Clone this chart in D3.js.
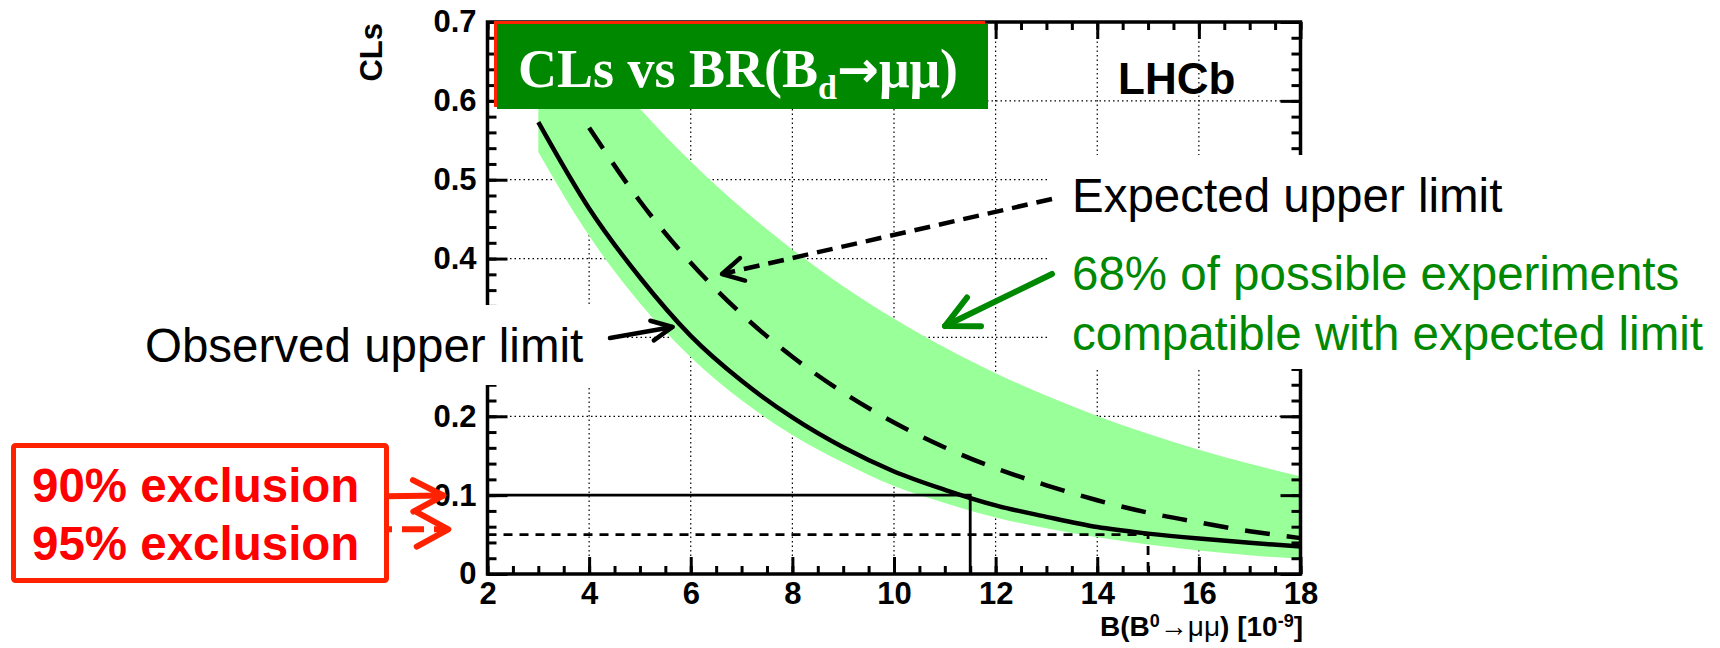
<!DOCTYPE html>
<html>
<head>
<meta charset="utf-8">
<script src="https://cdn.jsdelivr.net/npm/d3@7"></script>
<style>
  body { margin: 0; background: #fff; }
  svg { display: block; }
</style>
</head>
<body>
<svg id="chart" width="1720" height="648"></svg>
<script>
// Branching fraction B(B0 -> mu mu) in units of 1e-9
const bfValues = [3, 4, 5, 6, 7, 8, 9, 10, 11, 12, 13, 14, 15, 16, 17, 18];
// Observed CLs (solid)
const observedCLs = [0.573, 0.4635, 0.376, 0.302, 0.245, 0.1985, 0.1606, 0.130, 0.1068, 0.087, 0.0725, 0.0595, 0.0512, 0.0449, 0.0397, 0.0348];
// Expected CLs (dashed), starts at 4e-9
const expectedBF = [4, 5, 6, 7, 8, 9, 10, 11, 12, 13, 14, 15, 16, 17, 18];
const expectedCLs = [0.566, 0.4727, 0.3948, 0.3297, 0.2755, 0.2301, 0.1922, 0.1605, 0.1341, 0.1125, 0.0935, 0.0778, 0.0654, 0.0543, 0.0455];
// 68% band around the expected CLs
const bandLow = [0.535, 0.4288, 0.3434, 0.2750, 0.2203, 0.1764, 0.1413, 0.1115, 0.0900, 0.0715, 0.0581, 0.0466, 0.0373, 0.0299, 0.0239, 0.0192];
const bandHigh = [0.750, 0.665, 0.590, 0.523, 0.464, 0.4116, 0.365, 0.3238, 0.2872, 0.2547, 0.2259, 0.2004, 0.1777, 0.1576, 0.1398, 0.1240];
const exclusionCLs = [0.10, 0.05];
const exclusionLimit = [11.5, 15.0];
// Axis ticks (the 0.3 label sits under the "Observed upper limit" note, so it is not labelled)
const xMajorTicks = [2, 4, 6, 8, 10, 12, 14, 16, 18];
const yMajorTicks = [0, 0.1, 0.2, 0.3, 0.4, 0.5, 0.6, 0.7];
const yLabelTicks = [0, 0.1, 0.2, 0.4, 0.5, 0.6, 0.7];

const svg = d3.select("#chart");
const FONT = "'Liberation Sans', Arial, Helvetica, sans-serif";
const SERIF = "'Liberation Serif', 'Times New Roman', serif";

const x = d3.scaleLinear().domain([2, 18]).range([487.5, 1300.5]);
const y = d3.scaleLinear().domain([0, 0.7]).range([574, 22]);
const [X0, X1] = x.range();
const [Y0, Y1] = y.range();

svg.append("defs").append("clipPath").attr("id", "plotClip")
  .append("rect").attr("x", X0).attr("y", Y1).attr("width", X1 - X0).attr("height", Y0 - Y1);

// Dotted grid
const grid = svg.append("g").attr("stroke", "#000").attr("stroke-width", 1.2)
  .attr("stroke-dasharray", "1.5,3");
grid.selectAll("line.gx").data(xMajorTicks).join("line")
  .attr("x1", d => x(d)).attr("x2", d => x(d)).attr("y1", Y0).attr("y2", Y1);
grid.selectAll("line.gy").data(yMajorTicks).join("line")
  .attr("x1", X0).attr("x2", X1).attr("y1", d => y(d)).attr("y2", d => y(d));

const plot = svg.append("g").attr("clip-path", "url(#plotClip)");

// 68% band
const bandData = bfValues.map((b, i) => ({ b, lo: bandLow[i], hi: bandHigh[i] }));
plot.append("path").datum(bandData)
  .attr("fill", "#99ff99")
  .attr("d", d3.area().x(d => x(d.b)).y0(d => y(d.lo)).y1(d => y(d.hi)).curve(d3.curveMonotoneX));

// Expected (dashed)
plot.append("path").datum(expectedBF.map((b, i) => ({ b, v: expectedCLs[i] })))
  .attr("fill", "none").attr("stroke", "#000").attr("stroke-width", 4.5)
  .attr("stroke-dasharray", "25,17")
  .attr("d", d3.line().x(d => x(d.b)).y(d => y(d.v)).curve(d3.curveMonotoneX));

// Observed (solid)
plot.append("path").datum(bfValues.map((b, i) => ({ b, v: observedCLs[i] })))
  .attr("fill", "none").attr("stroke", "#000").attr("stroke-width", 4.5)
  .attr("d", d3.line().x(d => x(d.b)).y(d => y(d.v)).curve(d3.curveMonotoneX));

// Exclusion lines: 90% solid, 95% dashed
const excl = exclusionCLs.map((c, i) => ({ c, lim: exclusionLimit[i], dash: i === 0 ? null : "9,7" }));
const exG = svg.append("g").attr("stroke", "#000").attr("stroke-width", 2.8).attr("fill", "none");
exG.selectAll("path").data(excl).join("path")
  .attr("stroke-dasharray", d => d.dash)
  .attr("d", d => `M${X0},${y(d.c)}H${x(d.lim)}V${Y0}`);

// Axes with inside ticks
const font = g => g.attr("font-family", FONT).attr("font-weight", "bold").attr("font-size", 31);
const clean = g => { g.select(".domain").remove(); g.selectAll(".tick line").attr("stroke-width", 3); };
const xMinor = d3.range(2, 18.001, 0.5);
const yMinor = d3.range(0, 0.7001, 0.02);

svg.append("g").attr("transform", `translate(0,${Y0})`)
  .call(d3.axisBottom(x).tickValues(xMinor).tickSize(-8).tickFormat("")).call(clean);
svg.append("g").attr("transform", `translate(0,${Y0})`)
  .call(d3.axisBottom(x).tickValues(xMajorTicks).tickSize(-17).tickPadding(8).tickFormat(d3.format("d")))
  .call(clean).call(font);
svg.append("g").attr("transform", `translate(0,${Y1})`)
  .call(d3.axisTop(x).tickValues(xMinor).tickSize(-8).tickFormat("")).call(clean);
svg.append("g").attr("transform", `translate(0,${Y1})`)
  .call(d3.axisTop(x).tickValues(xMajorTicks).tickSize(-17).tickFormat("")).call(clean);

svg.append("g").attr("transform", `translate(${X0},0)`)
  .call(d3.axisLeft(y).tickValues(yMinor).tickSize(-9).tickFormat("")).call(clean);
svg.append("g").attr("transform", `translate(${X0},0)`)
  .call(d3.axisLeft(y).tickValues(yMajorTicks).tickSize(-20).tickFormat("")).call(clean);
svg.append("g").attr("transform", `translate(${X0},0)`)
  .call(d3.axisLeft(y).tickValues(yLabelTicks).tickSize(0).tickPadding(11)
    .tickFormat(d => d === 0 ? "0" : d3.format(".1f")(d)))
  .call(clean).call(font);
svg.append("g").attr("transform", `translate(${X1},0)`)
  .call(d3.axisRight(y).tickValues(yMinor).tickSize(-9).tickFormat("")).call(clean);
svg.append("g").attr("transform", `translate(${X1},0)`)
  .call(d3.axisRight(y).tickValues(yMajorTicks).tickSize(-20).tickFormat("")).call(clean);

// Frame
svg.append("rect").attr("x", X0).attr("y", Y1).attr("width", X1 - X0).attr("height", Y0 - Y1)
  .attr("fill", "none").attr("stroke", "#000").attr("stroke-width", 3.5);

// Axis titles
svg.append("text").attr("transform", "translate(381.7,23) rotate(-90)")
  .attr("text-anchor", "end").attr("font-family", FONT).attr("font-weight", "bold")
  .attr("font-size", 31).text("CLs");

const xt = svg.append("text").attr("x", 1303).attr("y", 636).attr("text-anchor", "end")
  .attr("font-family", FONT).attr("font-weight", "bold").attr("font-size", 28);
xt.append("tspan").text("B(B");
xt.append("tspan").attr("dy", -9).attr("font-size", 18).text("0");
xt.append("tspan").attr("dy", 9).attr("font-weight", "normal").text("\u2192\u03bc\u03bc");
xt.append("tspan").text(") [10");
xt.append("tspan").attr("dy", -9).attr("font-size", 18).text("-9");
xt.append("tspan").attr("dy", 9).text("]");

// Experiment label
svg.append("text").attr("x", 1118).attr("y", 94).attr("font-family", FONT)
  .attr("font-weight", "bold").attr("font-size", 44).text("LHCb");

// Annotation backgrounds
svg.append("rect").attr("x", 1050).attr("y", 155).attr("width", 670).attr("height", 214).attr("fill", "#fff");
svg.append("rect").attr("x", 135).attr("y", 305).attr("width", 490).attr("height", 80).attr("fill", "#fff");

// Annotation text
const ann = svg.append("g").attr("font-family", FONT).attr("font-size", 47.5);
ann.append("text").attr("x", 1072).attr("y", 212).attr("fill", "#000").text("Expected upper limit");
ann.append("text").attr("x", 1072).attr("y", 290).attr("fill", "#008800").text("68% of possible experiments");
ann.append("text").attr("x", 1072).attr("y", 350).attr("fill", "#008800").text("compatible with expected limit");
ann.append("text").attr("x", 145).attr("y", 362).attr("fill", "#000").text("Observed upper limit");

// Arrow helper: shaft plus open head
function arrow(g, from, to, opt) {
  const [x1, y1] = from, [x2, y2] = to;
  g.append("line").attr("x1", x1).attr("y1", y1).attr("x2", x2).attr("y2", y2)
    .attr("stroke", opt.color).attr("stroke-width", opt.width)
    .attr("stroke-dasharray", opt.dash || null).attr("stroke-linecap", opt.dash ? "butt" : "round");
  const a = Math.atan2(y1 - y2, x1 - x2);
  const p = d3.path();
  p.moveTo(x2 + opt.head * Math.cos(a + opt.spread), y2 + opt.head * Math.sin(a + opt.spread));
  p.lineTo(x2, y2);
  p.lineTo(x2 + opt.head * Math.cos(a - opt.spread), y2 + opt.head * Math.sin(a - opt.spread));
  g.append("path").attr("d", p.toString()).attr("fill", "none")
    .attr("stroke", opt.color).attr("stroke-width", opt.width)
    .attr("stroke-linecap", "round").attr("stroke-linejoin", "round");
}
const arrows = svg.append("g");
arrow(arrows, [1052, 199], [722, 274], { color: "#000", width: 4.5, dash: "16,9", head: 24, spread: 0.5 });
arrow(arrows, [1052, 274], [945, 326], { color: "#008800", width: 6, head: 36, spread: 0.46 });
arrow(arrows, [610, 338], [672.5, 327], { color: "#000", width: 4.5, head: 23, spread: 0.45 });

// Exclusion legend box
const red = "#ff2200";
svg.append("rect").attr("x", 13.5).attr("y", 445.5).attr("width", 373).attr("height", 135)
  .attr("rx", 2).attr("fill", "#fff").attr("stroke", red).attr("stroke-width", 5);
const rt = svg.append("g").attr("font-family", FONT).attr("font-weight", "bold")
  .attr("font-size", 47.5).attr("fill", "#ff0000");
rt.append("text").attr("x", 32).attr("y", 501.5).text("90% exclusion");
rt.append("text").attr("x", 32).attr("y", 560).text("95% exclusion");
arrow(arrows, [366.7, 496.5], [443.3, 495.5], { color: red, width: 6, head: 34, spread: 0.48 });
arrow(arrows, [370, 529.3], [448.3, 529.3], { color: red, width: 6, dash: "22,10", head: 36, spread: 0.5 });

// Title box
svg.append("rect").attr("x", 494).attr("y", 21).attr("width", 491).attr("height", 86).attr("fill", red);
svg.append("rect").attr("x", 497).attr("y", 24).attr("width", 491).attr("height", 85).attr("fill", "#008800");
const tt = svg.append("text").attr("x", 518).attr("y", 87).attr("font-family", SERIF)
  .attr("font-weight", "bold").attr("font-size", 54).attr("fill", "#fff");
tt.append("tspan").text("CLs vs BR(B");
tt.append("tspan").attr("dy", 12).attr("font-size", 34).text("d");
tt.append("tspan").attr("dy", -12).attr("font-family", "'DejaVu Sans', sans-serif")
  .attr("font-size", 50).text("\u2192");
tt.append("tspan").text("\u03bc\u03bc)");
</script>
</body>
</html>
